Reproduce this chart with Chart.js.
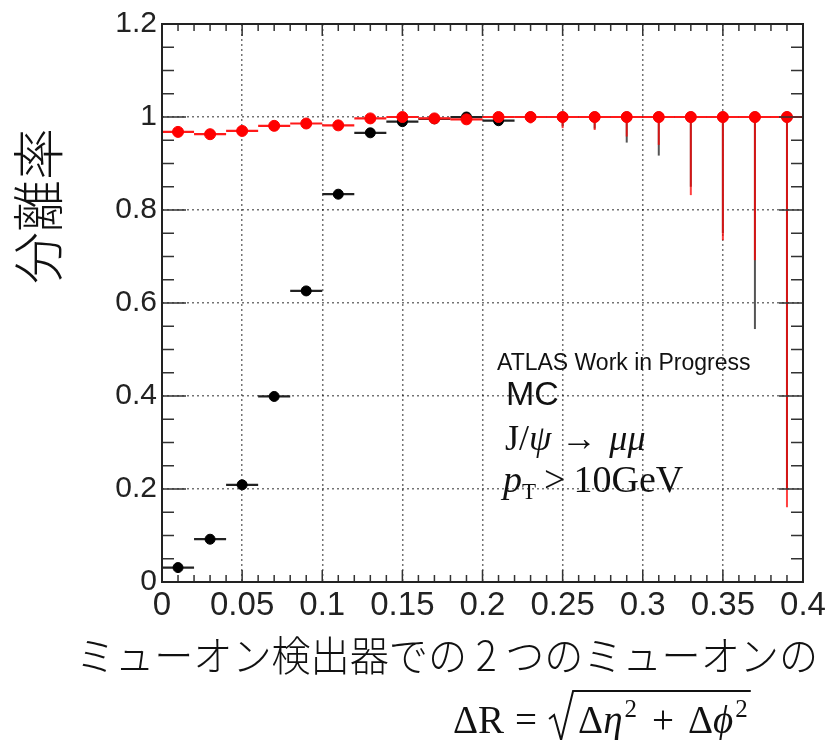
<!DOCTYPE html>
<html>
<head>
<meta charset="utf-8">
<script src="https://cdn.jsdelivr.net/npm/chart.js@4.4.0/dist/chart.umd.min.js"></script>
<style>
  html, body { margin: 0; padding: 0; background: #fff; }
  #wrap { width: 831px; height: 740px; }
</style>
</head>
<body>
<div id="wrap"><canvas id="chart" width="831" height="740"></canvas></div>
<script>
// Bin centres (ΔR), bin half width 0.01
const binCenters = [0.01, 0.03, 0.05, 0.07, 0.09, 0.11, 0.13, 0.15, 0.17, 0.19,
                    0.21, 0.23, 0.25, 0.27, 0.29, 0.31, 0.33, 0.35, 0.37, 0.39];
const binHalfWidth = 0.01;

// Black series (separation rate) and lower end of its error bar
const blackEff = [0.031, 0.092, 0.209, 0.399, 0.626, 0.834, 0.966, 0.990, 0.996, 1.0,
                  0.992, 1.0, 1.0, 1.0, 1.0, 1.0, 1.0, 1.0, 1.0, 1.0];
const blackLow = [0.028, 0.088, 0.204, 0.394, 0.621, 0.830, 0.962, 0.987, 0.993, 0.998,
                  0.988, 0.990, 0.980, 0.975, 0.945, 0.917, 0.850, 0.750, 0.544, 0.200];

// Red series and lower end of its error bar
const redEff = [0.968, 0.963, 0.970, 0.981, 0.986, 0.982, 0.997, 1.0, 0.997, 0.995,
                1.0, 1.0, 1.0, 1.0, 1.0, 1.0, 1.0, 1.0, 1.0, 1.0];
const redLow = [0.965, 0.960, 0.967, 0.978, 0.983, 0.979, 0.994, 0.998, 0.994, 0.992,
                0.997, 0.986, 0.976, 0.972, 0.958, 0.940, 0.832, 0.735, 0.692, 0.161];

// Axis ranges / tick steps
const xRange = [0, 0.4];
const yRange = [0, 1.2];
const xStep = 0.05;
const yStep = 0.2;

function toPoints(vals, lows) {
    return binCenters.map((x, i) => ({ x: x, y: vals[i], yLow: lows[i] }));
}

// Error bars drawn just before each dataset's markers
const errorBars = {
    id: 'errorBars',
    beforeDatasetDraw(chart, args) {
        const ds = chart.data.datasets[args.index];
        const { x, y } = chart.scales;
        const ctx = chart.ctx;
        const area = chart.chartArea;
        ctx.save();
        ctx.beginPath();
        ctx.rect(area.left, area.top, area.right - area.left, area.bottom - area.top);
        ctx.clip();
        ds.data.forEach(p => {
            const px = x.getPixelForValue(p.x);
            const py = y.getPixelForValue(p.y);
            ctx.strokeStyle = ds.vErrColor;
            ctx.lineWidth = 2;
            ctx.beginPath();
            ctx.moveTo(px, y.getPixelForValue(p.yLow));
            ctx.lineTo(px, py);
            ctx.stroke();
            ctx.strokeStyle = ds.hErrColor;
            ctx.lineWidth = 2.2;
            ctx.beginPath();
            ctx.moveTo(x.getPixelForValue(p.x - binHalfWidth), py);
            ctx.lineTo(x.getPixelForValue(p.x + binHalfWidth), py);
            ctx.stroke();
        });
        ctx.restore();
    }
};

// ROOT style frame, inward ticks, titles and labels
const decorations = {
    id: 'decorations',
    afterDraw(chart) {
        const ctx = chart.ctx;
        const { x, y } = chart.scales;
        const a = chart.chartArea;
        ctx.save();

        ctx.strokeStyle = '#333';
        ctx.lineWidth = 1.5;
        for (let i = 0; i <= 24; i++) {
            const py = y.getPixelForValue(i * 0.05);
            const len = i % 4 === 0 ? 24 : 12;
            ctx.beginPath();
            ctx.moveTo(a.left, py); ctx.lineTo(a.left + len, py);
            ctx.moveTo(a.right, py); ctx.lineTo(a.right - len, py);
            ctx.stroke();
        }
        for (let i = 0; i <= 40; i++) {
            const px = x.getPixelForValue(i * 0.01);
            const len = i % 5 === 0 ? 12 : 7;
            ctx.beginPath();
            ctx.moveTo(px, a.bottom); ctx.lineTo(px, a.bottom - len);
            ctx.moveTo(px, a.top); ctx.lineTo(px, a.top + len);
            ctx.stroke();
        }
        ctx.strokeStyle = '#222';
        ctx.lineWidth = 2;
        ctx.strokeRect(a.left, a.top, a.right - a.left, a.bottom - a.top);

        ctx.fillStyle = '#111';
        // y title
        ctx.save();
        ctx.translate(38, 206);
        ctx.rotate(-Math.PI / 2);
        ctx.font = '300 52px "Noto Sans CJK JP"';
        ctx.textAlign = 'center';
        ctx.textBaseline = 'middle';
        ctx.fillText('分離率', 0, 0);
        ctx.restore();

        // x title, line 1
        ctx.font = '300 41px "Noto Sans CJK JP"';
        ctx.textAlign = 'center';
        ctx.textBaseline = 'middle';
        ctx.fillText('ミューオン検出器での 2 つのミューオンの', 447, 655, 742);

        // x title, line 2: ΔR = sqrt(Δη² + Δφ²)
        ctx.textAlign = 'left';
        ctx.textBaseline = 'alphabetic';
        let cx = 453;
        const base2 = 733;
        const seg = (txt, font, dy, gap) => {
            ctx.font = font;
            ctx.fillText(txt, cx, base2 + (dy || 0));
            cx += ctx.measureText(txt).width + (gap || 0);
        };
        const serif = '39px "Liberation Serif"';
        const iserif = 'italic 39px "Liberation Serif"';
        const sup = '25px "Liberation Serif"';
        seg('ΔR', serif, 0, 11);
        seg('=', serif, 0, 12);
        const sx = cx;
        cx = sx + 29;
        seg('Δ', serif);
        seg('η', iserif, 0, 2);
        seg('2', sup, -16, 15);
        seg('+', serif, 0, 14);
        seg('Δ', serif);
        seg('ϕ', iserif, 0, 2);
        seg('2', sup, -16);
        ctx.strokeStyle = '#111';
        ctx.lineWidth = 2;
        ctx.beginPath();
        ctx.moveTo(sx, 719);
        ctx.lineTo(sx + 5, 715);
        ctx.lineTo(sx + 12, 740);
        ctx.lineTo(sx + 24, 691);
        ctx.lineTo(cx + 3, 691);
        ctx.stroke();

        // annotations
        ctx.font = '23px "Liberation Sans"';
        ctx.fillText('ATLAS Work in Progress', 497, 370);
        ctx.font = '34px "Liberation Sans"';
        ctx.fillText('MC', 506, 405);

        cx = 505;
        const base3 = 450;
        const seg3 = (txt, font, gap) => {
            ctx.font = font;
            ctx.fillText(txt, cx, base3);
            cx += ctx.measureText(txt).width + (gap || 0);
        };
        seg3('J/', '36px "Liberation Serif"');
        seg3('ψ', 'italic 36px "Liberation Serif"', 10);
        seg3('→', '36px "Liberation Serif"', 12);
        seg3('μμ', 'italic 36px "Liberation Serif"');

        cx = 503;
        const base4 = 492;
        ctx.font = 'italic 38px "Liberation Serif"';
        ctx.fillText('p', cx, base4);
        cx += ctx.measureText('p').width;
        ctx.font = '23px "Liberation Serif"';
        ctx.fillText('T', cx, base4 + 7);
        cx += ctx.measureText('T').width + 8;
        ctx.font = '38px "Liberation Serif"';
        ctx.fillText('>', cx, base4);
        cx += ctx.measureText('>').width + 8;
        ctx.fillText('10GeV', cx, base4);

        ctx.restore();
    }
};

const fmt = v => String(+v.toFixed(2));

new Chart(document.getElementById('chart'), {
    type: 'scatter',
    data: {
        datasets: [
            {
                label: 'black',
                data: toPoints(blackEff, blackLow),
                backgroundColor: '#000',
                borderColor: '#000',
                pointRadius: 5,
                pointHoverRadius: 5,
                vErrColor: '#555',
                hErrColor: '#222',
                order: 2
            },
            {
                label: 'red',
                data: toPoints(redEff, redLow),
                backgroundColor: '#ff0000',
                borderColor: '#ff0000',
                pointRadius: 5.5,
                pointHoverRadius: 5.5,
                vErrColor: 'rgba(255,0,0,0.75)',
                hErrColor: '#ff1a1a',
                order: 1
            }
        ]
    },
    options: {
        responsive: false,
        animation: false,
        devicePixelRatio: 1,
        layout: { padding: { left: 0, top: 24, right: 28, bottom: 0 } },
        plugins: { legend: { display: false }, tooltip: { enabled: false } },
        scales: {
            x: {
                type: 'linear',
                min: xRange[0], max: xRange[1],
                afterFit: s => { s.height = 158; },
                grid: { color: 'rgba(0,0,0,0.55)', lineWidth: 1.5, drawTicks: false },
                border: { display: false, dash: [2, 3] },
                ticks: {
                    stepSize: xStep, autoSkip: false, maxRotation: 0, minRotation: 0,
                    padding: 4, color: '#222',
                    font: { family: 'Liberation Sans', size: 33 },
                    callback: fmt
                }
            },
            y: {
                type: 'linear',
                min: yRange[0], max: yRange[1],
                afterFit: s => { s.width = 162; },
                grid: { color: 'rgba(0,0,0,0.55)', lineWidth: 1.5, drawTicks: false },
                border: { display: false, dash: [2, 3] },
                ticks: {
                    stepSize: yStep, padding: 5, color: '#222',
                    font: { family: 'Liberation Sans', size: 30 },
                    callback: fmt
                }
            }
        }
    },
    plugins: [errorBars, decorations]
});
</script>
</body>
</html>
